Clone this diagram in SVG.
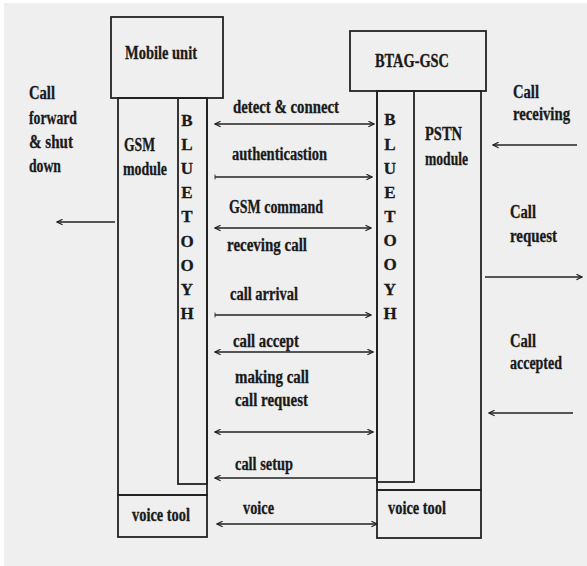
<svg xmlns="http://www.w3.org/2000/svg" width="587" height="566" viewBox="0 0 587 566">
<style>
.box{fill:none;stroke:#222;stroke-width:1.8}
.t{font-family:"Liberation Serif","Times New Roman",serif;font-weight:bold;fill:#1a1a1a;stroke:#1a1a1a;stroke-width:0.3;font-size:18px}
.l{font-family:"Liberation Serif","Times New Roman",serif;font-weight:bold;fill:#1a1a1a;stroke:#1a1a1a;stroke-width:0.3;font-size:17px;text-anchor:middle}
.c{fill:none;stroke:#222;stroke-width:1.5}
</style>
<defs>
<marker id="ah" viewBox="0 0 10 10" refX="9" refY="5" markerWidth="7" markerHeight="7" orient="auto-start-reverse" markerUnits="userSpaceOnUse"><path d="M1,1 L9,5 L1,9" fill="none" stroke="#222" stroke-width="1.6"/></marker>
<marker id="tick" viewBox="0 0 4 10" refX="2" refY="5" markerWidth="3" markerHeight="6" orient="auto" markerUnits="userSpaceOnUse"><path d="M2,1 V9" stroke="#222" stroke-width="1.5"/></marker>
</defs>
<rect width="587" height="566" fill="#ffffff"/>
<rect x="4" y="3" width="583" height="563" fill="#efefef"/>

<g id="mobile-unit">
<rect class="box" x="111" y="17" width="112" height="81"/>
<text class="t" x="125" y="59" font-size="20" textLength="72" lengthAdjust="spacingAndGlyphs">Mobile unit</text>
</g>
<g id="gsm-module">
<rect class="box" x="118" y="98" width="89" height="397"/>
<text class="t" x="124" y="151" textLength="31" lengthAdjust="spacingAndGlyphs">GSM</text>
<text class="t" x="123" y="175" textLength="44" lengthAdjust="spacingAndGlyphs">module</text>
</g>
<g id="bluetooth-left">
<rect class="box" x="178" y="98" width="29" height="386"/>
<text class="l" x="187" y="126">B</text>
<text class="l" x="187" y="150">L</text>
<text class="l" x="187" y="174">U</text>
<text class="l" x="187" y="198">E</text>
<text class="l" x="187" y="222">T</text>
<text class="l" x="187" y="247">O</text>
<text class="l" x="187" y="271">O</text>
<text class="l" x="187" y="295">Y</text>
<text class="l" x="187" y="319">H</text>
</g>
<g id="voice-tool-left">
<rect class="box" x="118" y="495" width="89" height="42"/>
<text class="t" x="132" y="521" textLength="58" lengthAdjust="spacingAndGlyphs">voice tool</text>
</g>

<g id="btag-gsc">
<rect class="box" x="350" y="31" width="136" height="60"/>
<text class="t" x="375" y="67" textLength="74" lengthAdjust="spacingAndGlyphs">BTAG-GSC</text>
</g>
<g id="pstn-module">
<rect class="box" x="377" y="91" width="104" height="399"/>
<text class="t" x="425" y="140" textLength="37" lengthAdjust="spacingAndGlyphs">PSTN</text>
<text class="t" x="425" y="165" textLength="43" lengthAdjust="spacingAndGlyphs">module</text>
</g>
<g id="bluetooth-right">
<rect class="box" x="377" y="91" width="37" height="391"/>
<text class="l" x="390" y="125">B</text>
<text class="l" x="390" y="150">L</text>
<text class="l" x="390" y="174">U</text>
<text class="l" x="390" y="198">E</text>
<text class="l" x="390" y="222">T</text>
<text class="l" x="390" y="246">O</text>
<text class="l" x="390" y="270">O</text>
<text class="l" x="390" y="295">Y</text>
<text class="l" x="390" y="319">H</text>
</g>
<g id="voice-tool-right">
<rect class="box" x="377" y="490" width="104" height="48"/>
<text class="t" x="388" y="514" textLength="58" lengthAdjust="spacingAndGlyphs">voice tool</text>
</g>

<g id="call-forward-label">
<text class="t" x="29" y="99" font-size="19" textLength="26" lengthAdjust="spacingAndGlyphs">Call</text>
<text class="t" x="29" y="124" font-size="19" textLength="48" lengthAdjust="spacingAndGlyphs">forward</text>
<text class="t" x="29" y="148" font-size="19" textLength="44" lengthAdjust="spacingAndGlyphs">&amp; shut</text>
<text class="t" x="29" y="172" font-size="19" textLength="32" lengthAdjust="spacingAndGlyphs">down</text>
</g>
<g id="call-receiving-label">
<text class="t" x="513" y="98" font-size="19" textLength="26" lengthAdjust="spacingAndGlyphs">Call</text>
<text class="t" x="513" y="120" font-size="19" textLength="57" lengthAdjust="spacingAndGlyphs">receiving</text>
</g>
<g id="call-request-label">
<text class="t" x="510" y="218" font-size="19" textLength="26" lengthAdjust="spacingAndGlyphs">Call</text>
<text class="t" x="510" y="242" font-size="19" textLength="47" lengthAdjust="spacingAndGlyphs">request</text>
</g>
<g id="call-accepted-label">
<text class="t" x="510" y="347" font-size="19" textLength="26" lengthAdjust="spacingAndGlyphs">Call</text>
<text class="t" x="510" y="369" font-size="19" textLength="52" lengthAdjust="spacingAndGlyphs">accepted</text>
</g>

<g id="connectors">
<path class="c" d="M215,124 H374" marker-start="url(#ah)" marker-end="url(#ah)"/>
<path class="c" d="M215,177 H372" marker-start="url(#tick)" marker-end="url(#ah)"/>
<path class="c" d="M215,228 H371" marker-start="url(#ah)" marker-end="url(#ah)"/>
<path class="c" d="M215,315 H371" marker-start="url(#tick)" marker-end="url(#ah)"/>
<path class="c" d="M215,352 H373" marker-start="url(#ah)" marker-end="url(#ah)"/>
<path class="c" d="M215,432 H373" marker-start="url(#ah)" marker-end="url(#ah)"/>
<path class="c" d="M376,478 H215" marker-end="url(#ah)"/>
<path class="c" d="M217,524 H377" marker-start="url(#ah)" marker-end="url(#ah)"/>
<path class="c" d="M115,222 H57" marker-end="url(#ah)"/>
<path class="c" d="M577,145 H493" marker-end="url(#ah)"/>
<path class="c" d="M485,277 H582" marker-end="url(#ah)"/>
<path class="c" d="M573,413 H489" marker-end="url(#ah)"/>
</g>
<g id="connector-labels">
<text class="t" x="233" y="113" textLength="106" lengthAdjust="spacingAndGlyphs">detect &amp; connect</text>
<text class="t" x="232" y="160" textLength="95" lengthAdjust="spacingAndGlyphs">authenticastion</text>
<text class="t" x="229" y="213" textLength="94" lengthAdjust="spacingAndGlyphs">GSM command</text>
<text class="t" x="227" y="251" textLength="80" lengthAdjust="spacingAndGlyphs">receving call</text>
<text class="t" x="230" y="300" textLength="68" lengthAdjust="spacingAndGlyphs">call arrival</text>
<text class="t" x="233" y="347" textLength="66" lengthAdjust="spacingAndGlyphs">call accept</text>
<text class="t" x="235" y="383" textLength="74" lengthAdjust="spacingAndGlyphs">making call</text>
<text class="t" x="235" y="406" textLength="73" lengthAdjust="spacingAndGlyphs">call request</text>
<text class="t" x="235" y="470" textLength="58" lengthAdjust="spacingAndGlyphs">call setup</text>
<text class="t" x="243" y="514" textLength="31" lengthAdjust="spacingAndGlyphs">voice</text>
</g>
</svg>
